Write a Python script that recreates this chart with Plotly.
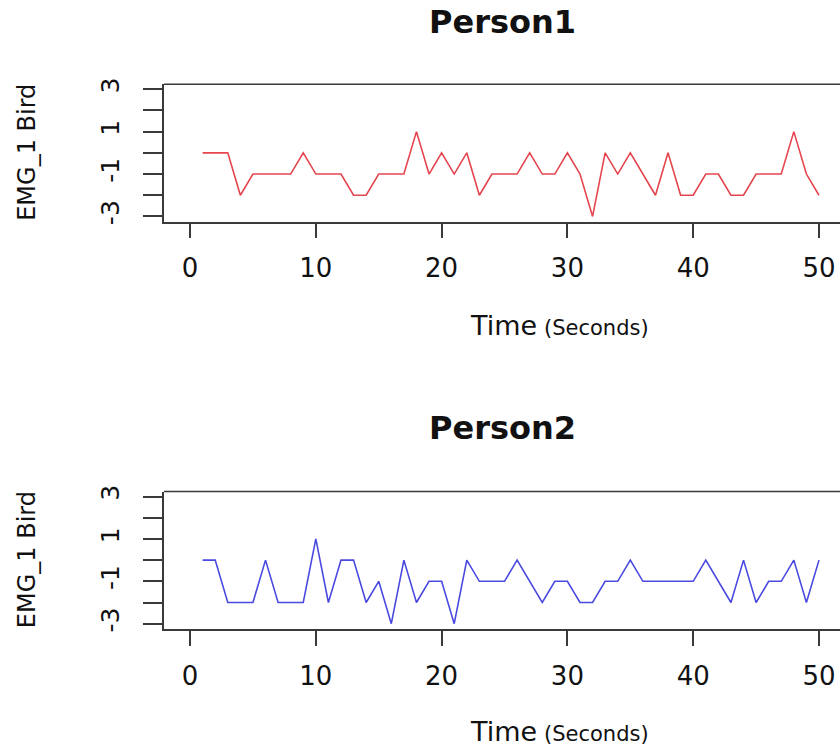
import plotly.graph_objects as go

time_s = list(range(1, 51))
person1 = [0, 0, 0, -2, -1, -1, -1, -1, 0, -1,
           -1, -1, -2, -2, -1, -1, -1, 1, -1, 0,
           -1, 0, -2, -1, -1, -1, 0, -1, -1, 0,
           -1, -3, 0, -1, 0, -1, -2, 0, -2, -2,
           -1, -1, -2, -2, -1, -1, -1, 1, -1, -2]
person2 = [0, 0, -2, -2, -2, 0, -2, -2, -2, 1,
           -2, 0, 0, -2, -1, -3, 0, -2, -1, -1,
           -3, 0, -1, -1, -1, 0, -1, -2, -1, -1,
           -2, -2, -1, -1, 0, -1, -1, -1, -1, -1,
           0, -1, -2, 0, -2, -1, -1, 0, -2, 0]
titles = ["Person1", "Person2"]
colors = ["#e5454f", "#4a4ae0"]
x_ticks = [0, 10, 20, 30, 40, 50]
y_ticks = [-3, -2, -1, 0, 1, 2, 3]
y_ticktext = ["-3", "", "-1", "", "1", "", "3"]

W, H = 840, 752
FONT = "DejaVu Sans, Liberation Sans, Arial, sans-serif"
AX = "#3a3a3a"

# pixel layout (top, bottom of plot box) for each panel
panels = [(78.3, 217.7), (491.7, 631.0)]
box_left = 164
x_range = [-2.07, 51.67]
y_range = [-3.24, 3.24]

fig = go.Figure()
annotations = []
shapes = []

for i, (series, col) in enumerate(zip([person1, person2], colors)):
    n = "" if i == 0 else str(i + 1)
    fig.add_trace(go.Scatter(x=time_s, y=series, mode="lines",
                             line=dict(color=col, width=1.6),
                             xaxis="x" + n, yaxis="y" + n,
                             showlegend=False, hoverinfo="skip"))
    top, bot = panels[i]
    ydom = [(H - bot) / H, (H - top) / H]
    xdom = [box_left / W, 1.0]
    fig.layout["xaxis" + n] = dict(
        domain=xdom, range=x_range, anchor="y" + n,
        tickvals=x_ticks, ticks="outside", ticklen=15, tickwidth=1.5,
        tickcolor=AX, showline=True, linecolor=AX, linewidth=1.5,
        showgrid=False, zeroline=False, ticklabelstandoff=8,
        tickfont=dict(family=FONT, size=26, color="#111"))
    fig.layout["yaxis" + n] = dict(
        domain=ydom, range=y_range, anchor="x" + n,
        tickvals=y_ticks, ticktext=y_ticktext, ticks="outside", ticklen=19,
        tickwidth=1.5, tickcolor=AX, showline=True, linecolor=AX,
        linewidth=1.5, showgrid=False, zeroline=False, tickangle=-90,
        ticklabelstandoff=14,
        tickfont=dict(family=FONT, size=25, color="#111"))
    # top border of box
    shapes.append(dict(type="line", xref="paper", yref="paper",
                       x0=box_left / W, x1=1.02, y0=ydom[1], y1=ydom[1],
                       line=dict(color=AX, width=1.5)))
    off = 0 if i == 0 else 412
    annotations.append(dict(text="<b>%s</b>" % titles[i], xref="paper", yref="paper",
                            x=502 / W, y=1 - (15 + off) / H, showarrow=False,
                            xanchor="center", yanchor="middle",
                            font=dict(family=FONT, size=32, color="#111")))
    annotations.append(dict(text="Time", xref="paper", yref="paper",
                            x=503 / W, y=1 - (323 + off) / H, showarrow=False,
                            xanchor="center", yanchor="middle",
                            font=dict(family=FONT, size=27, color="#111")))
    annotations.append(dict(text="(Seconds)", xref="paper", yref="paper",
                            x=542 / W, y=1 - (326 + off) / H, showarrow=False,
                            xanchor="left", yanchor="middle",
                            font=dict(family=FONT, size=21, color="#111")))
    annotations.append(dict(text="EMG_1 Bird", xref="paper", yref="paper",
                            x=27 / W, y=1 - ((top + bot) / 2) / H, showarrow=False,
                            textangle=-90, xanchor="center", yanchor="middle",
                            font=dict(family=FONT, size=24, color="#111")))

fig.update_layout(width=W, height=H, margin=dict(l=0, r=0, t=0, b=0),
                  paper_bgcolor="white", plot_bgcolor="white",
                  annotations=annotations, shapes=shapes)
fig.write_html("out.html", config={"displayModeBar": False},
               post_script="document.body.style.margin='0';"
                           "document.body.style.overflow='hidden';")
